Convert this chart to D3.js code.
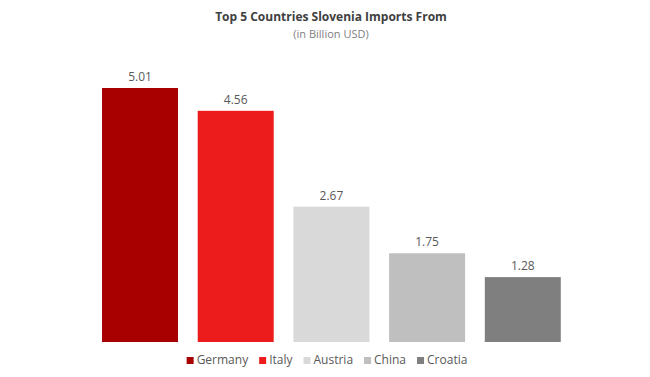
<!DOCTYPE html>
<html lang="en">
  <head>
    <meta charset="utf-8">
    <title>Top 5 Countries Slovenia Imports From</title>
    <script type="text/javascript" src="https://cdn.jsdelivr.net/npm/d3@7"></script>
    <style>
      body { margin: 0; background: #fff; }
      text { font-family: "Open Sans", "Liberation Sans", sans-serif; }
    </style>
  </head>
  <body>
    <script type="text/javascript">
      var countries = ["Germany", "Italy", "Austria", "China", "Croatia"];
      var imports = [5.01, 4.56, 2.67, 1.75, 1.28];
      var colors = ["#A80000", "#EC1C1C", "#D9D9D9", "#BFBFBF", "#7F7F7F"];

      var w = 650;
      var h = 377;
      var base = 342;

      var svg = d3.select("body")
        .append("svg")
        .attr("width", w)
        .attr("height", h);

      var xScale = d3.scaleBand()
        .domain(countries)
        .range([82.3, 580.5])
        .padding(0.206);

      var yScale = d3.scaleLinear()
        .domain([0, 5.01])
        .range([base, 88]);

      var data = countries.map(function(c, i) {
        return { country: c, value: imports[i], color: colors[i] };
      });

      // title
      svg.append("text")
        .attr("x", 331)
        .attr("y", 21)
        .attr("text-anchor", "middle")
        .attr("font-size", "12px")
        .attr("font-weight", "bold")
        .attr("fill", "#404040")
        .text("Top 5 Countries Slovenia Imports From");

      svg.append("text")
        .attr("x", 331)
        .attr("y", 38)
        .attr("text-anchor", "middle")
        .attr("font-size", "11px")
        .attr("fill", "#808080")
        .text("(in Billion USD)");

      svg.selectAll("rect.bar")
        .data(data)
        .enter()
        .append("rect")
        .attr("class", "bar")
        .attr("x", function(d) { return xScale(d.country); })
        .attr("y", function(d) { return yScale(d.value); })
        .attr("width", xScale.bandwidth())
        .attr("height", function(d) { return base - yScale(d.value); })
        .attr("fill", function(d) { return d.color; });

      svg.selectAll("text.val")
        .data(data)
        .enter()
        .append("text")
        .attr("class", "val")
        .attr("x", function(d) { return xScale(d.country) + xScale.bandwidth() / 2; })
        .attr("y", function(d) { return yScale(d.value) - 7; })
        .attr("text-anchor", "middle")
        .attr("font-size", "12px")
        .attr("fill", "#595959")
        .text(function(d) { return d.value.toFixed(2); });

      // legend
      var legend = svg.append("g");
      var lx = 0;
      data.forEach(function(d, i) {
        var g = legend.append("g").attr("transform", "translate(" + lx + ",0)");
        g.append("rect")
          .attr("x", 0)
          .attr("y", -7)
          .attr("width", 7)
          .attr("height", 7)
          .attr("fill", d.color);
        var t = g.append("text")
          .attr("x", 10)
          .attr("y", 0)
          .attr("font-size", "12px")
          .attr("fill", "#595959")
          .text(d.country);
        lx += 10 + t.node().getComputedTextLength() + 11;
      });
      var lw = lx - 11;
      legend.attr("transform", "translate(" + (327 - lw / 2) + ",364)");
    </script>
  </body>
</html>
